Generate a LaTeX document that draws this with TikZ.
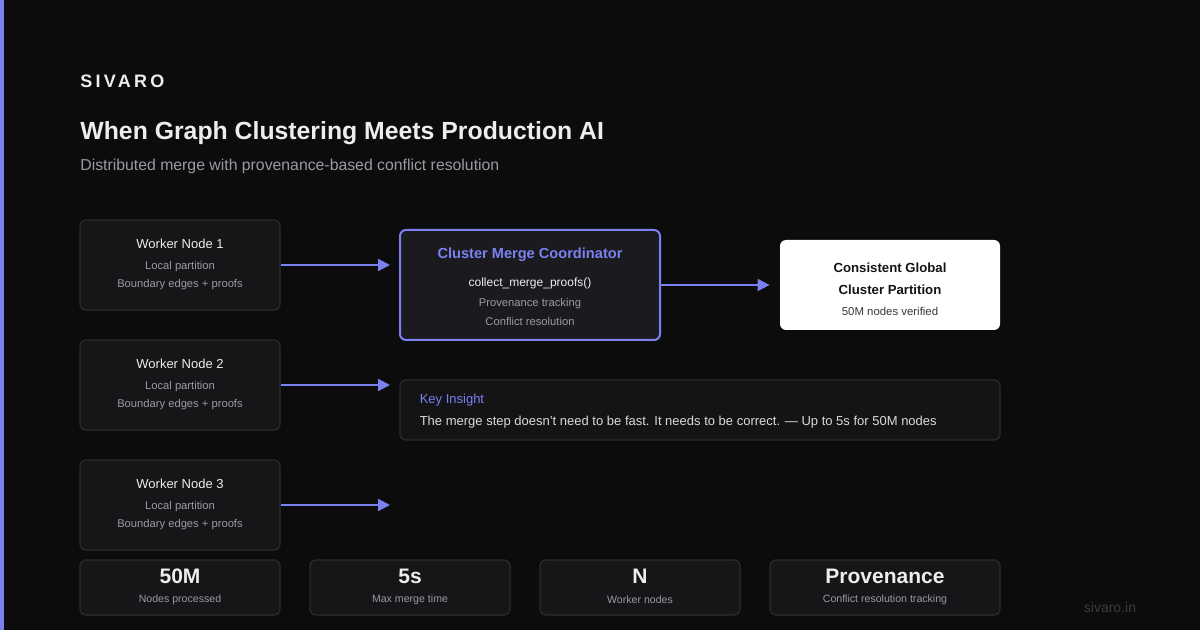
\documentclass[tikz,border=0pt]{standalone}
\usepackage{fontspec}
\setmainfont{Liberation Sans}
\usetikzlibrary{arrows.meta,positioning,calc}

\definecolor{bg}{HTML}{0C0C0D}
\definecolor{accent}{HTML}{7B80F0}
\definecolor{card}{HTML}{161618}
\definecolor{coordfill}{HTML}{1B1B1F}
\definecolor{cardline}{HTML}{2C2C30}
\definecolor{fg}{HTML}{EDEDF0}
\definecolor{muted}{HTML}{9A9AA4}
\definecolor{dim}{HTML}{3C3C44}
\definecolor{ink}{HTML}{141416}

\begin{document}
\begin{tikzpicture}[x=0.5pt, y=-0.5pt,
      txt/.style={inner sep=0pt, text=fg},
      hd/.style={txt, font=\fontsize{6.5}{8}\selectfont},
      sub/.style={txt, text=muted, font=\fontsize{5.6}{7}\selectfont},
      card/.style={draw=cardline, fill=card, line width=0.6pt, rounded corners=3pt},
      worker/.style={card, minimum width=100pt, minimum height=45pt},
      stat/.style={card, minimum height=27.5pt},
      ar/.style={-{Triangle[length=6pt, width=6pt]}, draw=accent, line width=1pt}]
    % canvas
    \fill[bg] (0,0) rectangle (1200,630);
    \useasboundingbox (0,0) rectangle (1200,630);
    \fill[accent] (0,0) rectangle (4,630);
    % heading
    \node[txt, anchor=west, font=\fontsize{9}{11}\selectfont\bfseries\addfontfeature{LetterSpace=18}] (brand) at (80,81) {SIVARO};
    \node[txt, anchor=west, font=\fontsize{12.4}{15}\selectfont\bfseries] (title) at (80,133) {When Graph Clustering Meets Production AI};
    \node[txt, anchor=west, text=muted, font=\fontsize{7.9}{9}\selectfont] (subtitle) at (80,166) {Distributed merge with provenance-based conflict resolution};
    % workers
    \foreach \i/\y in {1/265, 2/385, 3/505}{
      \node[worker] (w\i) at (180,\y) {};
      \node[hd] (w\i-name) at ($(w\i.north)+(0,24)$) {Worker Node \i};
      \node[sub] (w\i-part) at ($(w\i.north)+(0,47)$) {Local partition};
      \node[sub] (w\i-edge) at ($(w\i.north)+(0,65)$) {Boundary edges + proofs};
      \coordinate (e\i) at (390,\y);
      \draw[ar] (w\i) -- (e\i);
    }
    % coordinator
    \node[card, draw=accent, fill=coordfill, line width=1pt, minimum width=130pt, minimum height=55pt] (coord) at (530,285) {};
    \node[txt, text=accent, font=\fontsize{7.3}{9}\selectfont\bfseries] (coord-name) at ($(coord.north)+(0,26)$) {Cluster Merge Coordinator};
    \node[txt, font=\fontsize{6}{7}\selectfont] (coord-fn) at ($(coord.north)+(0,54)$) {collect\_merge\_proofs()};
    \node[sub] (coord-prov) at ($(coord.north)+(0,75)$) {Provenance tracking};
    \node[sub] (coord-conf) at ($(coord.north)+(0,92)$) {Conflict resolution};
    % result
    \node[fill=white, rounded corners=3pt, minimum width=110pt, minimum height=45pt] (res) at (890,285) {};
    \node[txt, text=ink, font=\fontsize{6.6}{8}\selectfont\bfseries] (res-a) at ($(res.north)+(0,28)$) {Consistent Global};
    \node[txt, text=ink, font=\fontsize{6.6}{8}\selectfont\bfseries] (res-b) at ($(res.north)+(0,50)$) {Cluster Partition};
    \node[txt, text=ink!85!white, font=\fontsize{5.7}{7}\selectfont] (res-c) at ($(res.north)+(0,72)$) {50M nodes verified};
    \draw[ar, shorten >=5pt] (coord) -- (res);
    % key insight
    \node[card, fill=ink, minimum width=300pt, minimum height=30pt] (key) at (700,410) {};
    \node[txt, anchor=west, text=accent, font=\fontsize{6.5}{8}\selectfont] (key-head) at ($(key.north west)+(20,21)$) {Key Insight};
    \node[txt, anchor=west, text=fg!92!black, font=\fontsize{6.5}{8}\selectfont] (key-body) at ($(key.north west)+(20,43)$) {The merge step doesn't need to be fast. It needs to be correct. — Up to 5s for 50M nodes};
    % stats row
    \foreach \n/\x/\w/\v/\l in {s1/180/100/50M/Nodes processed, s2/410/100/5s/Max merge time,
        s3/640/100/N/Worker nodes, s4/885/115/Provenance/Conflict resolution tracking}{
      \node[stat, minimum width=\w pt] (\n) at (\x,587.5) {};
      \node[txt, font=\fontsize{10.5}{12}\selectfont\bfseries] (\n-val) at ($(\n.north)+(0,17)$) {\v};
      \node[sub, font=\fontsize{5.3}{7}\selectfont] (\n-lab) at ($(\n.north)+(0,40)$) {\l};
    }
    \node[txt, text=dim, font=\fontsize{7}{8}\selectfont] (site) at (1110,607) {sivaro.in};
  \end{tikzpicture}
\end{document}
